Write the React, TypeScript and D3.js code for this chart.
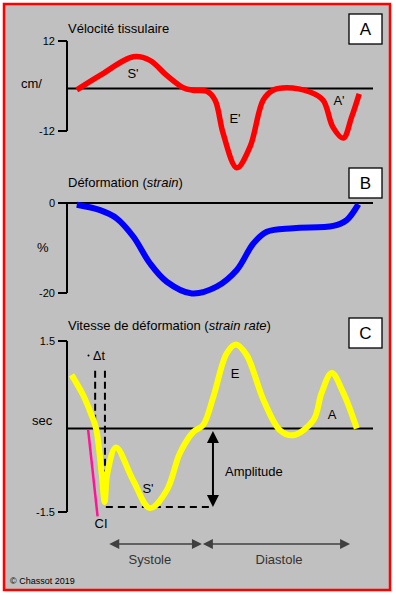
import React from "react";
import * as d3 from "d3";

const W = 396;
const H = 595;
const FONT = "'Liberation Sans', Arial, Helvetica, sans-serif";

// shared time axis, 0-100 = one cardiac cycle
const velocity: [number, number][] = [
  [3.2, -0.4], [10.8, 3.3], [21.7, 8.0], [27.1, 7.1], [32.6, 3.3], [38.0, 0.2],
  [41.2, -0.5], [45.7, -0.8], [48.4, -3.3], [51.0, -12.6], [55.5, -22.4],
  [59.8, -16.5], [64.1, -3.3], [67.3, -0.5], [71.8, 0.2], [79.4, -1.0],
  [83.7, -3.3], [86.9, -10.9], [90.3, -14.0], [93.0, -8.1], [95.5, -1.5],
];

const strain: [number, number][] = [
  [3.2, -0.4], [10.8, -1.6], [16.2, -3.4], [21.7, -7.5], [27.1, -13.4],
  [32.6, -17.5], [40.8, -20.1], [48.9, -18.6], [55.5, -14.9], [60.9, -9.0],
  [65.3, -6.4], [74.0, -5.6], [87.0, -5.1], [91.4, -3.8], [95.2, -0.3],
];

const strainRate: [number, number][] = [
  [1.5, 0.92], [5.3, 0.57], [7.8, 0.26], [9.5, 0.0], [11.3, -0.8], [12.3, -1.32],
  [13.2, -0.8], [16.0, -0.34], [21.6, -0.93], [27.1, -1.43], [32.6, -1.11],
  [36.9, -0.44], [41.3, -0.06], [44.5, 0.06], [47.8, 0.54], [52.2, 1.29],
  [55.2, 1.44], [58.7, 1.26], [64.2, 0.49], [69.6, -0.03], [74.0, -0.12],
  [80.5, 0.14], [83.2, 0.61], [86.5, 0.95], [90.3, 0.61], [94.7, 0.0],
];

const velTicks = [12, -12];
const strainTicks = [0, -20];
const rateTicks = [1.5, -1.5];

// annotations of panel C
const dtLines: [number, number][] = [[9.2, -0.05], [12.4, -1.1]]; // time, bottom value
const dtTop = 0.99;
const ciSlope: [number, number][] = [[6.9, -0.02], [10.0, -1.58]];
const ciMin: [number, number] = [12.7, -1.41];
const ampT = 47.7;
const phases = [
  { label: "Systole", from: 13.8, to: 44.1, labelT: 27.1 },
  { label: "Diastole", from: 44.4, to: 92.5, labelT: 69.3 },
];

const x = d3.scaleLinear().domain([0, 100]).range([67, 373]);
const yA = d3.scaleLinear().domain([-12, 0, 12]).range([131, 88.5, 41]);
const yB = d3.scaleLinear().domain([-20, 0]).range([293, 203]);
const yC = d3.scaleLinear().domain([-1.5, 0, 1.5]).range([512, 428.5, 341]);

const curve = d3.curveCatmullRom.alpha(0.5);
const mkLine = (y: d3.ScaleLinear<number, number>) =>
  d3.line<[number, number]>().x(d => x(d[0])).y(d => y(d[1])).curve(curve);

const Axis = ({ y, ticks, zero }: { y: d3.ScaleLinear<number, number>; ticks: number[]; zero: number }) => {
  const [lo, hi] = d3.extent(ticks) as [number, number];
  return (
    <g>
      <line x1={67} x2={67} y1={y(hi)} y2={y(lo)} stroke="#000" strokeWidth={2} />
      {ticks.map(t => (
        <g key={t}>
          <line x1={58} x2={67} y1={y(t)} y2={y(t)} stroke="#000" strokeWidth={2} />
          <text x={55} y={y(t)} textAnchor="end" dominantBaseline="central" fontSize={11}>{t}</text>
        </g>
      ))}
      <line x1={67} x2={373} y1={y(zero)} y2={y(zero)} stroke="#000" strokeWidth={2} />
    </g>
  );
};

const Box = ({ y0, label }: { y0: number; label: string }) => (
  <g>
    <rect x={349} y={y0} width={33} height={30} fill="#fff" stroke="#000" strokeWidth={1.3} />
    <text x={365.5} y={y0 + 15.5} textAnchor="middle" dominantBaseline="central" fontSize={17}>{label}</text>
  </g>
);

export default function App() {
  const ax = x(ampT);
  const aTop = yC(0) + 2.5;
  const aBot = yC(ciMin[1]);
  return (
    <svg width={W} height={H} style={{ position: "absolute", left: 0, top: 0 }} fontFamily={FONT}>
      <rect x={4} y={4} width={386} height={586} fill="#c0c0c0" stroke="#ff0000" strokeWidth={2.5} />

      {/* A */}
      <text x={68} y={32.5} fontSize={13}>Vélocité tissulaire</text>
      <Box y0={14} label="A" />
      <text x={21} y={83.5} dominantBaseline="central" fontSize={13}>cm/</text>
      <Axis y={yA} ticks={velTicks} zero={0} />
      <path d={mkLine(yA)(velocity) ?? ""} fill="none" stroke="#ff0000" strokeWidth={5.5} />
      <text x={133} y={73} textAnchor="middle" dominantBaseline="central" fontSize={13}>S'</text>
      <text x={235} y={118} textAnchor="middle" dominantBaseline="central" fontSize={13}>E'</text>
      <text x={339} y={100} textAnchor="middle" dominantBaseline="central" fontSize={13}>A'</text>

      {/* B */}
      <text x={68} y={187} fontSize={13}>Déformation (<tspan fontStyle="italic">strain</tspan>)</text>
      <Box y0={168} label="B" />
      <text x={37} y={247} dominantBaseline="central" fontSize={13}>%</text>
      <Axis y={yB} ticks={strainTicks} zero={0} />
      <path d={mkLine(yB)(strain) ?? ""} fill="none" stroke="#0000ff" strokeWidth={6} />

      {/* C */}
      <text x={68} y={329.5} fontSize={13}>Vitesse de déformation (<tspan fontStyle="italic">strain rate</tspan>)</text>
      <Box y0={318} label="C" />
      <text x={32} y={420} dominantBaseline="central" fontSize={13}>sec</text>
      {dtLines.map(([t, b]) => (
        <line key={t} x1={x(t)} x2={x(t)} y1={yC(dtTop)} y2={yC(b)} stroke="#000" strokeWidth={2} strokeDasharray="7,4" />
      ))}
      <circle cx={88.5} cy={355.5} r={1} fill="#000" />
      <text x={99} y={356} textAnchor="middle" dominantBaseline="central" fontSize={12.5}>Δt</text>
      <Axis y={yC} ticks={rateTicks} zero={0} />
      <line x1={x(ciSlope[0][0])} y1={yC(ciSlope[0][1])} x2={x(ciSlope[1][0])} y2={yC(ciSlope[1][1])}
        stroke="#ff1493" strokeWidth={2.5} />
      <line x1={x(ciMin[0])} x2={ax} y1={aBot} y2={aBot} stroke="#000" strokeWidth={2} strokeDasharray="7,5" />
      <path d={mkLine(yC)(strainRate) ?? ""} fill="none" stroke="#ffff00" strokeWidth={6} />
      <line x1={ax} x2={ax} y1={aTop + 10} y2={aBot - 10} stroke="#000" strokeWidth={2} />
      <polygon points={`${ax},${aTop} ${ax - 6},${aTop + 12} ${ax + 6},${aTop + 12}`} fill="#000" />
      <polygon points={`${ax},${aBot} ${ax - 6},${aBot - 12} ${ax + 6},${aBot - 12}`} fill="#000" />
      <text x={225} y={471} dominantBaseline="central" fontSize={13}>Amplitude</text>
      <text x={148} y={488} textAnchor="middle" dominantBaseline="central" fontSize={13}>S'</text>
      <text x={235} y={373} textAnchor="middle" dominantBaseline="central" fontSize={13}>E</text>
      <text x={332} y={414} textAnchor="middle" dominantBaseline="central" fontSize={13}>A</text>
      <text x={101} y={523.5} textAnchor="middle" dominantBaseline="central" fontSize={13}>CI</text>

      {phases.map(p => {
        const x0 = x(p.from), x1 = x(p.to), yy = 544;
        return (
          <g key={p.label}>
            <line x1={x0 + 8} x2={x1 - 8} y1={yy} y2={yy} stroke="#404040" strokeWidth={1.5} />
            <polygon points={`${x0},${yy} ${x0 + 10},${yy - 5} ${x0 + 10},${yy + 5}`} fill="#404040" />
            <polygon points={`${x1},${yy} ${x1 - 10},${yy - 5} ${x1 - 10},${yy + 5}`} fill="#404040" />
            <text x={x(p.labelT)} y={559.5} textAnchor="middle" dominantBaseline="central" fontSize={13} fill="#333">{p.label}</text>
          </g>
        );
      })}
      <text x={10} y={581} dominantBaseline="central" fontSize={9}>© Chassot 2019</text>
    </svg>
  );
}
